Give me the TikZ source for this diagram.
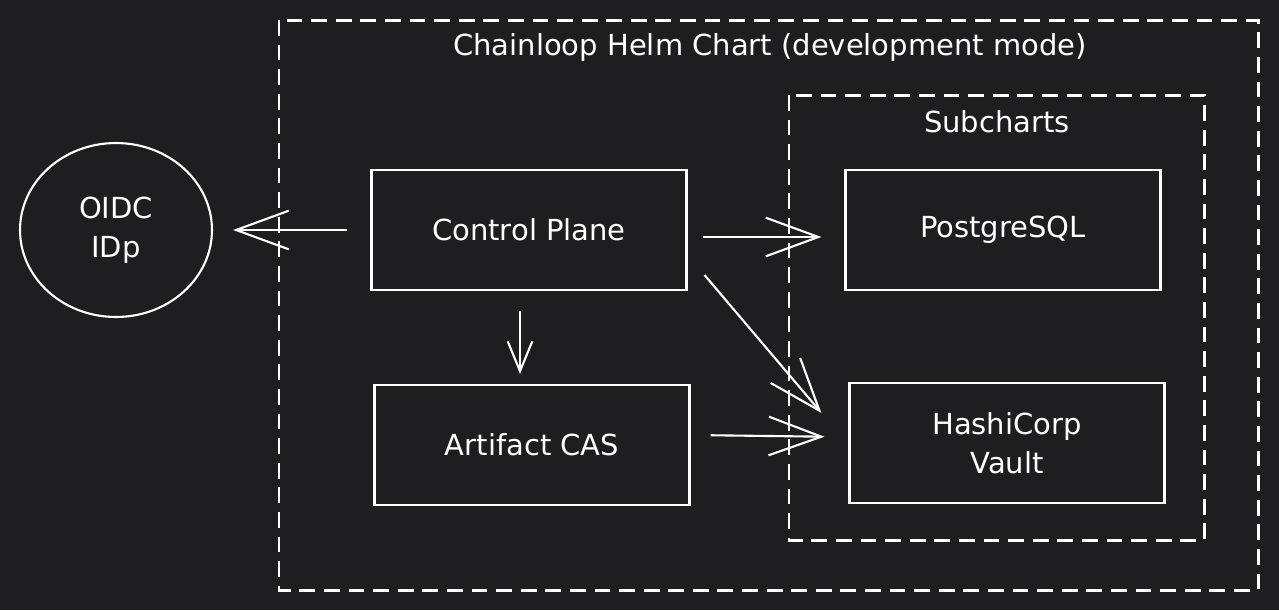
\documentclass[tikz,border=0pt]{standalone}
\usepackage{fontspec}
\setmainfont{DejaVu Sans}
\usetikzlibrary{arrows.meta,shapes.geometric}
\definecolor{bg}{HTML}{1E1E20}

\begin{document}
\begin{tikzpicture}[x=0.02cm,y=-0.02cm,
  txt/.style={text=white,font=\fontsize{16.5}{22}\selectfont},
  box/.style={txt,draw=white,line width=1.2pt,minimum width=6.3cm,minimum height=2.4cm,align=center},
  frame/.style={draw=white,line width=1.7pt,dash pattern=on 9pt off 5pt},
  arr/.style={draw=white,line width=1.2pt,-{Straight Barb[length=30pt,width=22pt]}},
  smallarr/.style={draw=white,line width=1.2pt,-{Straight Barb[length=17pt,width=14pt]}}]
\fill[bg] (0,0) rectangle (1279,610);
% chart frames
\draw[frame] (279,20) rectangle (1258,590);
\node[txt] (title) at (770,47) {Chainloop Helm Chart (development mode)};
\draw[frame] (789,95) rectangle (1204,540);
\node[txt] (sub) at (997,122) {Subcharts};
% nodes
\node[txt,ellipse,draw=white,line width=1.2pt,minimum width=3.84cm,minimum height=3.48cm,align=center] (idp) at (116,230) {OIDC\\IDp};
\node[box] (cp) at (529,230) {Control Plane};
\node[box] (cas) at (532,445) {Artifact CAS};
\node[box] (pg) at (1003,230) {PostgreSQL};
\node[box] (vault) at (1007,443) {HashiCorp\\Vault};
% connectors
\draw[arr,shorten <=0.46cm,shorten >=0.4cm] (cp.west) -- (idp.east);
\draw[arr,shorten <=0.3cm,shorten >=0.46cm] ([shift={(0,7)}]cp.east) -- ([shift={(0,7)}]pg.west);
\draw[arr] ([shift={(17,45)}]cp.east) -- ([shift={(-27,-30)}]vault.west);
\draw[smallarr,shorten <=0.4cm,shorten >=0.2cm] ([shift={(-9,0)}]cp.south) -- ([shift={(-12,0)}]cas.north);
\draw[arr,shorten <=0.4cm,shorten >=0.48cm] ([shift={(0,-10)}]cas.east) -- ([shift={(0,-6)}]vault.west);
\end{tikzpicture}
\end{document}
